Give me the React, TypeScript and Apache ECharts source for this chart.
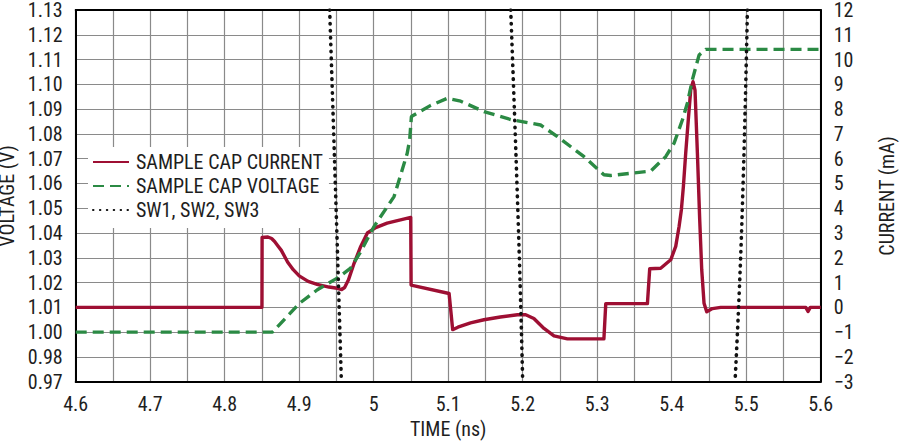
import React, { useEffect, useRef } from "react";
import * as echarts from "echarts";

// ---- data ----
const TIME_MIN = 4.6;
const TIME_MAX = 5.6;

// left axis tick labels as printed (bottom -> top)
const VOLT_TICK_LABELS = [
  "0.97", "0.98", "1.00", "1.01", "1.02", "1.03", "1.04", "1.05",
  "1.06", "1.07", "1.08", "1.09", "1.10", "1.11", "1.12", "1.13",
];
const VOLT_MIN = 0.98;
const VOLT_MAX = 1.13;
const CURRENT_MIN = -3;
const CURRENT_MAX = 12;

// sample cap current: [time ns, mA]
const CURRENT_POINTS: [number, number][] = [
  [4.6, 0], [4.85, 0], [4.8502, 2.82], [4.858, 2.84], [4.863, 2.78],
  [4.867, 2.66], [4.871, 2.5], [4.876, 2.3], [4.8846, 1.82], [4.892, 1.52],
  [4.9, 1.27], [4.912, 1.05], [4.924, 0.93], [4.94, 0.82], [4.951, 0.77],
  [4.957, 0.72], [4.961, 0.8], [4.966, 1.1], [4.973, 1.72], [4.9826, 2.46],
  [4.9915, 3.0], [5.0027, 3.22], [5.018, 3.4], [5.036, 3.53], [5.0497, 3.63],
  [5.0502, 0.9], [5.1012, 0.56], [5.106, -0.9], [5.113, -0.8], [5.13, -0.63],
  [5.148, -0.5], [5.17, -0.39], [5.193, -0.3], [5.204, -0.3], [5.215, -0.45],
  [5.2286, -0.85], [5.242, -1.15], [5.26, -1.27], [5.309, -1.27], [5.3115, 0.15],
  [5.3674, 0.15], [5.3705, 1.56], [5.3852, 1.58], [5.3987, 1.92], [5.4054, 2.46],
  [5.4099, 3.26], [5.413, 3.94], [5.4157, 4.88], [5.4188, 6.22], [5.4219, 7.43],
  [5.4255, 8.77], [5.4286, 9.11], [5.4313, 8.77], [5.4345, 6.22], [5.4376, 3.53],
  [5.4403, 1.52], [5.4434, 0.17], [5.447, -0.18], [5.4546, -0.05], [5.4658, 0],
  [5.58, 0], [5.583, -0.17], [5.586, 0], [5.6, 0],
];

// sample cap voltage: [time ns, V]
const VOLTAGE_POINTS: [number, number][] = [
  [4.6, 1.0], [4.864, 1.0], [4.9007, 1.0117], [4.9244, 1.0171], [4.951, 1.0218],
  [4.969, 1.0258], [4.9826, 1.0325], [5.0004, 1.0426], [5.0273, 1.0547],
  [5.045, 1.0722], [5.0483, 1.0776], [5.0506, 1.087], [5.0765, 1.0915],
  [5.099, 1.0944], [5.1168, 1.0932], [5.148, 1.089], [5.184, 1.0858],
  [5.224, 1.0836], [5.2466, 1.0789], [5.2823, 1.0708], [5.309, 1.0635],
  [5.318, 1.0632], [5.3718, 1.065], [5.3919, 1.0708], [5.4031, 1.0762],
  [5.4143, 1.0856], [5.421, 1.0924], [5.4277, 1.1018], [5.4367, 1.1118],
  [5.4456, 1.1141], [5.6, 1.1141],
];

// switch edges: [time ns, mA (right axis)]
const SW1_POINTS: [number, number][] = [[4.9409, 12], [4.9503, 3.25], [4.9566, -3]];
const SW2_POINTS: [number, number][] = [[5.1839, 12], [5.1942, 3.25], [5.2, -3]];
const SW3_POINTS: [number, number][] = [[5.5016, 12], [5.494, 3.25], [5.485, -3]];

const SERIES_NAMES = ["SAMPLE CAP CURRENT", "SAMPLE CAP VOLTAGE", "SW1, SW2, SW3"];

const FONT = "'Liberation Sans Narrow', 'Arial Narrow', 'Roboto Condensed', 'Liberation Sans', sans-serif";
const RED = "#9e0f33";
const GREEN = "#2b8a44";
const GRID_GRAY = "#8a8a8a";
const TEXT = "#1e1e1e";

export default function App() {
  const ref = useRef<HTMLDivElement>(null);
  useEffect(() => {
    if (!ref.current) return;
    const chart = echarts.init(ref.current, undefined, { renderer: "svg" });
    const swSeries = [SW1_POINTS, SW2_POINTS, SW3_POINTS].map((pts) => ({
      name: SERIES_NAMES[2],
      type: "line",
      yAxisIndex: 1,
      data: pts,
      symbol: "none",
      smooth: true,
      lineStyle: { color: "#111", width: 3.6, type: [0.5, 6.4], cap: "round" },
      itemStyle: { color: "#111" },
      z: 4,
    }));
    chart.setOption({
      animation: false,
      textStyle: { fontFamily: FONT },
      grid: {
        left: 75.7,
        right: 79.3,
        top: 10,
        bottom: 63.3,
        containLabel: false,
        outerBoundsMode: "none",
      },
      legend: {
        orient: "vertical",
        left: 88,
        top: 147,
        padding: [5, 6, 8, 4],
        backgroundColor: "#ffffff",
        itemWidth: 36,
        itemHeight: 14,
        itemGap: 4,
        data: SERIES_NAMES,
        textStyle: { fontFamily: FONT, fontSize: 20, color: TEXT, padding: [0, 0, 0, 2] },
        itemStyle: { opacity: 0 },
        z: 10,
      },
      xAxis: [
        {
          type: "value",
          min: TIME_MIN,
          max: TIME_MAX,
          interval: 0.05,
          name: "TIME (ns)",
          nameLocation: "middle",
          nameGap: 36,
          nameTextStyle: { fontFamily: FONT, fontSize: 20, color: TEXT },
          axisLine: { show: true, onZero: false, lineStyle: { color: "#000", width: 2 } },
          axisTick: { show: false },
          axisLabel: {
            fontFamily: FONT,
            fontSize: 20,
            color: TEXT,
            margin: 12,
            formatter: (v: number) => {
              const k = Math.round(v * 100);
              if (k % 10 !== 0) return "";
              return String(Math.round(v * 10) / 10);
            },
          },
          splitLine: { show: true, lineStyle: { color: GRID_GRAY, width: 1.2 } },
        },
        {
          type: "value",
          position: "top",
          min: TIME_MIN,
          max: TIME_MAX,
          axisLine: { show: true, onZero: false, lineStyle: { color: "#000", width: 2 } },
          axisTick: { show: false },
          axisLabel: { show: false },
          splitLine: { show: false },
        },
      ],
      yAxis: [
        {
          type: "value",
          min: VOLT_MIN,
          max: VOLT_MAX,
          interval: 0.01,
          name: "VOLTAGE (V)",
          nameLocation: "middle",
          nameGap: 50,
          nameRotate: 90,
          nameTextStyle: { fontFamily: FONT, fontSize: 20, color: TEXT, lineHeight: 20 },
          axisLine: { show: true, onZero: false, lineStyle: { color: "#000", width: 2 } },
          axisTick: { show: false },
          axisLabel: {
            fontFamily: FONT,
            fontSize: 20,
            lineHeight: 18,
            color: TEXT,
            margin: 13,
            formatter: (v: number) => {
              const idx = Math.round((v - VOLT_MIN) / 0.01);
              return VOLT_TICK_LABELS[idx] ?? "";
            },
          },
          splitLine: { show: true, lineStyle: { color: GRID_GRAY, width: 1.2 } },
        },
        {
          type: "value",
          min: CURRENT_MIN,
          max: CURRENT_MAX,
          interval: 1,
          name: "CURRENT (mA)",
          nameLocation: "middle",
          nameGap: 56,
          nameRotate: 90,
          nameTextStyle: { fontFamily: FONT, fontSize: 20, color: TEXT, lineHeight: 20 },
          axisLine: { show: true, onZero: false, lineStyle: { color: "#000", width: 2 } },
          axisTick: { show: false },
          axisLabel: {
            fontFamily: FONT,
            fontSize: 20,
            lineHeight: 18,
            color: TEXT,
            margin: 13,
            formatter: (v: number) => (v < 0 ? "\u2212" + Math.abs(v) : String(v)),
          },
          splitLine: { show: false },
        },
      ],
      series: [
        {
          name: SERIES_NAMES[0],
          type: "line",
          yAxisIndex: 1,
          data: CURRENT_POINTS,
          symbol: "none",
          lineStyle: { color: RED, width: 3.4, join: "round" },
          itemStyle: { color: RED },
          z: 2,
        },
        {
          name: SERIES_NAMES[1],
          type: "line",
          yAxisIndex: 0,
          data: VOLTAGE_POINTS,
          symbol: "none",
          lineStyle: { color: GREEN, width: 3.4, type: [11, 6] },
          itemStyle: { color: GREEN },
          z: 3,
        },
        ...swSeries,
      ],
    });
    return () => chart.dispose();
  }, []);
  return (
    <div
      ref={ref}
      style={{ position: "fixed", left: 0, top: 0, width: 900, height: 445, background: "#fff" }}
    />
  );
}
